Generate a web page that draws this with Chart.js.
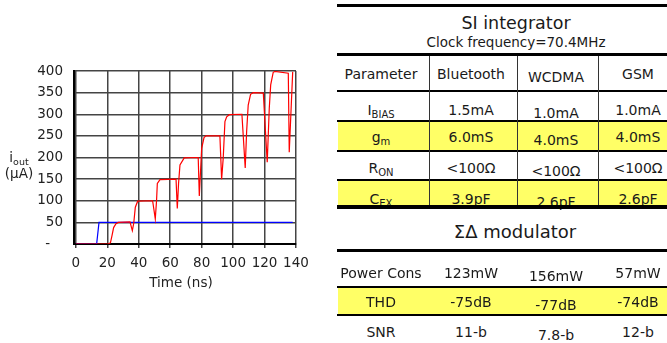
<!DOCTYPE html>
<html>
<head>
<meta charset="utf-8">
<script src="https://cdn.jsdelivr.net/npm/chart.js@4/dist/chart.umd.min.js"></script>
<style>
  html, body { margin: 0; padding: 0; background: #fff; }
  body { width: 667px; height: 343px; overflow: hidden; position: relative; font-family: "DejaVu Sans", Verdana, sans-serif; color: #1a1a1a; }
  #chartBox { position: absolute; left: 0; top: 0; width: 320px; height: 300px; }
  .t { position: absolute; white-space: nowrap; transform: translate(-50%, -50%); line-height: 1; }
  .ln { position: absolute; background: #000; }
  .vl { position: absolute; background: #333; }
  .hl { position: absolute; background: #ffff66; }
  sub { font-size: 10px; vertical-align: -3px; line-height: 0; }
  .ylab { position: absolute; font-size: 13.5px; color: #222; transform: translate(-50%, -50%); white-space: nowrap; }
  .ylab sub { font-size: 9.5px; }
</style>
</head>
<body>
<div id="chartBox"><canvas id="myChart" width="320" height="300"></canvas></div>
<div class="ylab" style="left:19px; top:157px;">i<sub>out</sub></div>
<div class="ylab" style="left:19px; top:173px;">(μA)</div>
<div class="ylab" style="left:181px; top:282px;">Time (ns)</div>
<div id="tables"></div>
<script>
// chart data (time in ns, current in uA)
var redTime = [0, 20.6, 22, 23, 24, 25.5, 27, 34.4, 35.9, 36.8, 37.8, 39.3, 48.8, 50.5, 51.3, 51.8, 53.5,
    63.7, 64.5, 65.3, 66.2, 68.9, 77.8, 78.5, 80, 81.5, 82.7, 91.6, 92.7, 93.7, 94.8, 95.9, 97.6,
    105.6, 107.7, 108.6, 109.6, 111.1, 112.8, 119.2, 121.7, 123, 123.9, 125.5, 126.6, 135.1, 135.7, 137.9];
var redCurrent = [0, 0, 3, 20, 38, 47, 50, 51, 31, 48, 85, 99, 100, 58, 100, 140, 149,
    150, 82, 140, 183, 199, 200, 111, 221, 246, 250, 250, 150, 198, 283, 294, 299,
    300, 176, 260, 321, 346, 350, 349, 189, 314, 368, 397, 399, 395, 212, 398];
var blueTime = [0, 13.2, 14.7, 137.9];
var blueCurrent = [0, 0, 50, 50];
var xTicks = [0, 20, 40, 60, 80, 100, 120, 140];
var yTicks = [0, 50, 100, 150, 200, 250, 300, 350, 400];

function toPoints(xs, ys) {
    return xs.map(function (x, i) { return { x: x, y: ys[i] }; });
}

var tickFont = { family: 'DejaVu Sans', size: 13.5 };

var ctx = document.getElementById('myChart').getContext('2d');
var myChart = new Chart(ctx, {
    type: 'line',
    data: {
        datasets: [
            { data: toPoints(redTime, redCurrent), borderColor: '#ff0000', borderWidth: 1.2, pointRadius: 0, tension: 0 },
            { data: toPoints(blueTime, blueCurrent), borderColor: '#0000ff', borderWidth: 1.2, pointRadius: 0, tension: 0 }
        ]
    },
    options: {
        responsive: false,
        animation: false,
        layout: { padding: { top: 71, right: 24, left: 0, bottom: 0 } },
        plugins: { legend: { display: false }, tooltip: { enabled: false } },
        scales: {
            x: {
                type: 'linear',
                min: -1.2,
                max: 140,
                afterBuildTicks: function (s) { s.ticks = xTicks.map(function (v) { return { value: v }; }); },
                afterFit: function (s) { s.height = 56; },
                grid: { color: '#444', lineWidth: 1.5, tickLength: 4, drawTicks: true },
                border: { display: true, color: '#000', width: 2 },
                ticks: { font: tickFont, color: '#222', padding: 7, maxRotation: 0, autoSkip: false }
            },
            y: {
                min: 0,
                max: 400,
                afterBuildTicks: function (s) { s.ticks = yTicks.map(function (v) { return { value: v }; }); },
                afterFit: function (s) { s.width = 74; },
                grid: { color: '#444', lineWidth: 1.5, drawTicks: false },
                border: { display: true, color: '#000', width: 2 },
                ticks: {
                    font: tickFont, color: '#222', padding: 11,
                    callback: function (v) { return v === 0 ? '-\u00a0\u00a0\u00a0' : v; }
                }
            }
        }
    }
});

// tables on the right
var box = document.getElementById('tables');
function add(cls, style, html) {
    var d = document.createElement('div');
    d.className = cls;
    d.setAttribute('style', style);
    if (html) d.innerHTML = html;
    box.appendChild(d);
}
function text(x, y, html, size) {
    add('t', 'left:' + x + 'px;top:' + y + 'px;font-size:' + (size || 14) + 'px;', html);
}
function hline(y, h) { add('ln', 'left:337px;width:345px;top:' + y + 'px;height:' + h + 'px;'); }
function band(y1, y2) { add('hl', 'left:338px;width:344px;top:' + y1 + 'px;height:' + (y2 - y1) + 'px;'); }
function vline(x, y1, y2) { add('vl', 'left:' + x + 'px;width:1.5px;top:' + y1 + 'px;height:' + (y2 - y1) + 'px;'); }

var colX = [381, 471, 556, 638];
var siRows = [
    { y: 74, cells: ['Parameter', 'Bluetooth', 'WCDMA', 'GSM'] },
    { y: 110, cells: ['I<sub>BIAS</sub>', '1.5mA', '1.0mA', '1.0mA'] },
    { y: 137, cells: ['g<sub>m</sub>', '6.0mS', '4.0mS', '4.0mS'] },
    { y: 168, cells: ['R<sub>ON</sub>', '&lt;100Ω', '&lt;100Ω', '&lt;100Ω'] },
    { y: 199, cells: ['C<sub>EX</sub>', '3.9pF', '2.6pF', '2.6pF'] }
];
var sdRows = [
    { y: 273, cells: ['Power Cons', '123mW', '156mW', '57mW'] },
    { y: 302, cells: ['THD', '-75dB', '-77dB', '-74dB'] },
    { y: 332, cells: ['SNR', '11-b', '7.8-b', '12-b'] }
];

band(122, 149.5);
band(180.5, 205);
band(288, 314);

function rows(list) {
    list.forEach(function (r) {
        r.cells.forEach(function (c, i) {
            text(colX[i], r.y + (i === 2 ? 2.5 : 0), c);
        });
    });
}
rows(siRows);
rows(sdRows);

hline(4, 3);
hline(53, 3);
hline(90, 2);
hline(120, 2);
hline(149.5, 2);
hline(178.5, 2);
hline(205, 3.5);
hline(249, 3);
hline(286, 2);
hline(314, 2);
vline(428.5, 56, 205);
vline(516.5, 56, 205);
vline(597.5, 56, 205);

text(516, 24, 'SI integrator', 17.5);
text(516, 43, 'Clock frequency=70.4MHz', 13.5);
text(515, 232, 'ΣΔ modulator', 18);
</script>
</body>
</html>
